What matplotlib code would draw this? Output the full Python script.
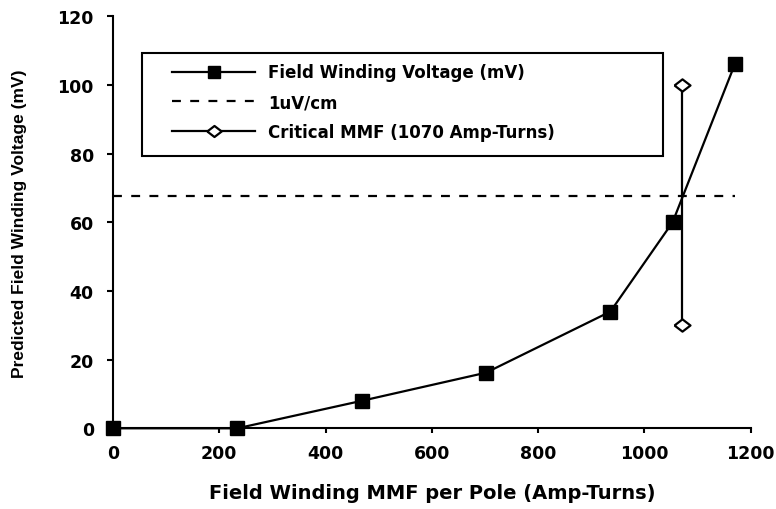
import matplotlib
matplotlib.use('Agg')
import matplotlib.pyplot as plt
from matplotlib.patches import Rectangle

plt.rcParams['font.family'] = ['DejaVu Sans']
plt.rcParams['font.weight'] = 'bold'

# field winding voltage vs MMF per pole
mmf = [0, 234, 468, 702, 936, 1053, 1170]
voltage = [0, 0, 8, 16.2, 34, 60, 106]

# 1uV/cm criterion line
crit_x = [0, 1170]
crit_y = [67.6, 67.6]

# critical MMF marker line
mmf_crit_x = [1070, 1070]
mmf_crit_y = [30, 100]

xticks = [0, 200, 400, 600, 800, 1000, 1200]
yticks = [0, 20, 40, 60, 80, 100, 120]

# slightly flattened diamond, like the original
flat_diamond = [(-1, 0), (0, 0.77), (1, 0), (0, -0.77), (-1, 0)]

fig = plt.figure(figsize=(7.76, 5.10), dpi=100)
ax = fig.add_axes([113/776, 1 - 429.3/510, 637.7/776, 412/510])

ax.plot(mmf, voltage, color='black', lw=1.6, marker='s', ms=10,
        mfc='black', mec='black', clip_on=False, zorder=4,
        label='Field Winding Voltage (mV)')
ax.plot(crit_x, crit_y, color='black', lw=1.6, ls=(0, (4, 4.2)),
        label='1uV/cm')
ax.plot(mmf_crit_x, mmf_crit_y, color='black', lw=1.6, marker=flat_diamond,
        ms=11.5, mfc='white', mec='black', mew=1.6, zorder=5,
        label='Critical MMF (1070 Amp-Turns)')

ax.set_xlim(0, 1200)
ax.set_ylim(0, 120)
ax.set_xticks(xticks)
ax.set_yticks(yticks)
ax.tick_params(axis='x', direction='out', length=3.6, width=1.5,
               labelsize=12.5, pad=8)
ax.tick_params(axis='y', direction='out', length=4.3, width=1.5,
               labelsize=12.5, pad=9.5)
for lab in ax.get_xticklabels() + ax.get_yticklabels():
    lab.set_fontweight('bold')

for side in ['top', 'right']:
    ax.spines[side].set_visible(False)
for side in ['left', 'bottom']:
    ax.spines[side].set_linewidth(1.5)

ax.set_xlabel('Field Winding MMF per Pole (Amp-Turns)', fontsize=14,
              fontweight='bold')
ax.xaxis.set_label_coords(0.5, -0.133)
ax.set_ylabel('Predicted Field Winding Voltage (mV)', fontsize=12.5,
              fontweight='bold', family='Liberation Sans')
ax.yaxis.set_label_coords(-0.135, 0.5)

# legend frame drawn on its own so the padding can match
box = Rectangle((142/776, 1 - 157/510), 521/776, 103/510,
                transform=fig.transFigure, facecolor='white',
                edgecolor='black', lw=1.5, zorder=6, clip_on=False)
ax.add_patch(box)

leg = ax.legend(loc='upper left', bbox_to_anchor=(172/776, 1 - 64.5/510),
                bbox_transform=fig.transFigure, frameon=False,
                prop={'size': 12, 'weight': 'bold'}, handlelength=5.0,
                handletextpad=0.75, labelspacing=0.7, borderpad=0,
                borderaxespad=0, markerscale=0.9)
leg.set_zorder(7)

fig.savefig('out.png', dpi=100)
